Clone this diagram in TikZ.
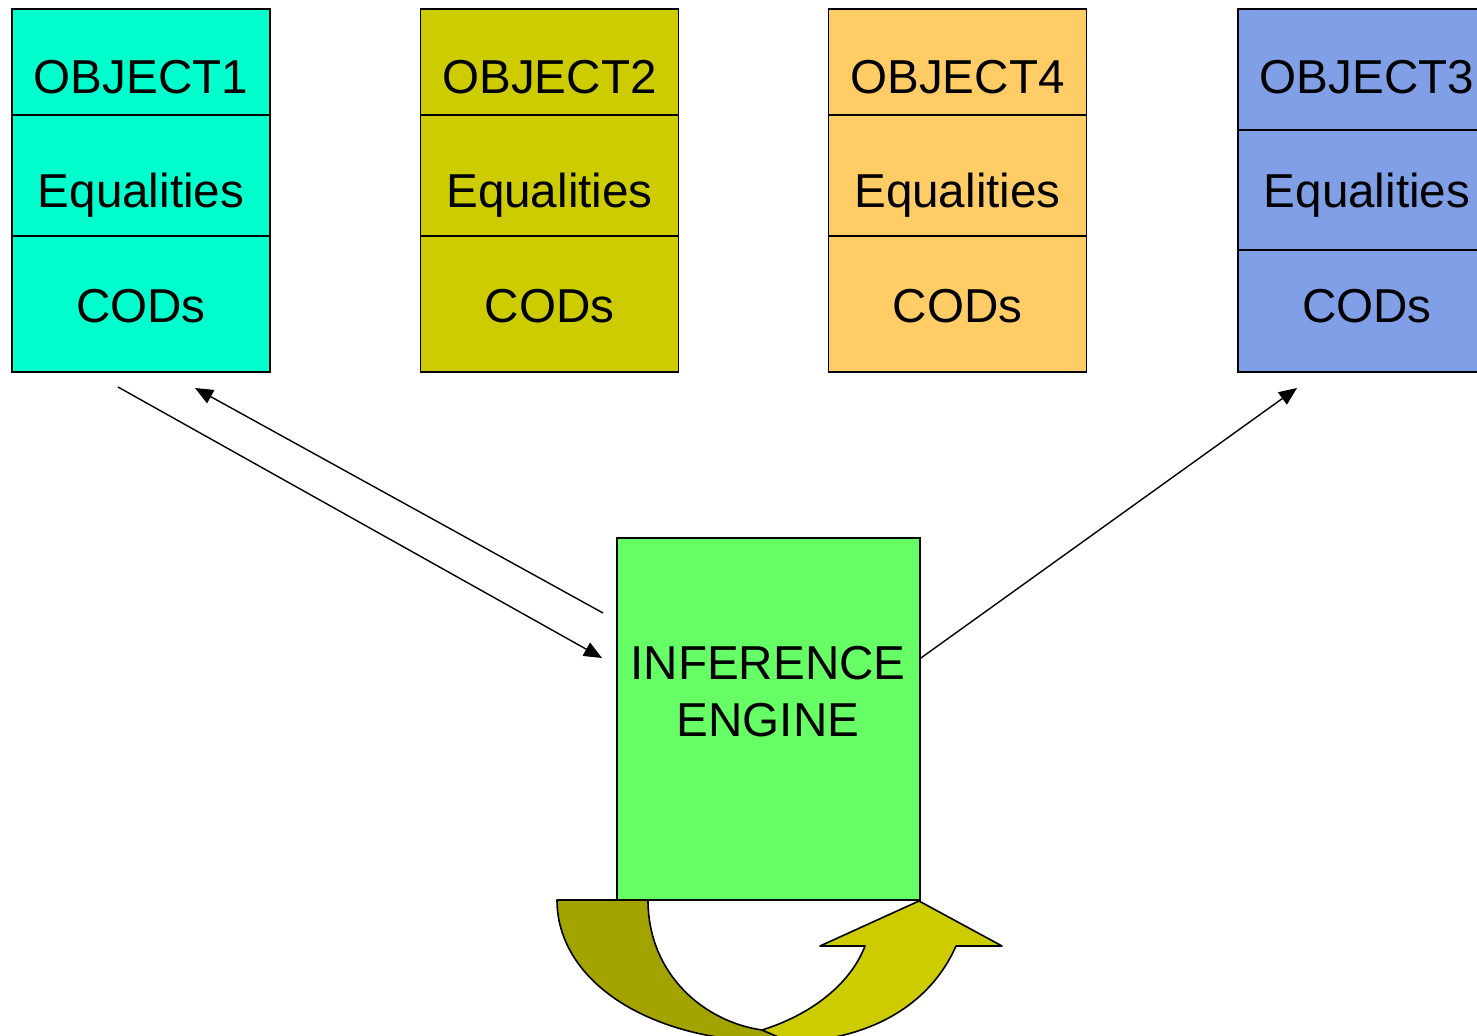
\documentclass[tikz,border=0pt]{standalone}
\usepackage{fontspec}
\setmainfont{Liberation Sans}
\usetikzlibrary{arrows.meta,positioning}
\definecolor{objA}{RGB}{0,255,204}
\definecolor{objB}{RGB}{204,204,0}
\definecolor{objC}{RGB}{255,204,102}
\definecolor{objD}{RGB}{128,159,230}
\definecolor{engfill}{RGB}{102,255,102}
\definecolor{loopdark}{RGB}{163,163,0}
\definecolor{looplight}{RGB}{204,204,0}
\tikzset{
  objbox/.style={draw,line width=0.9pt,inner sep=0pt,minimum width=129pt,minimum height=181.5pt},
  sep/.style={line width=0.6pt},
  lbl/.style={inner sep=0pt,font=\fontsize{23.8}{28.5}\selectfont},
  engbox/.style={draw,line width=0.9pt,fill=engfill,inner sep=0pt,minimum width=151.5pt,minimum height=181pt},
  nyil/.style={line width=0.7pt,-{Triangle[length=9pt,width=7.5pt]}},
  hurok/.style={draw,line width=0.8pt,line join=round},
}
\begin{document}
\begin{tikzpicture}[x=0.5pt,y=-0.5pt]
  \useasboundingbox (0,0) rectangle (1477,1036);
  \clip (0,0) rectangle (1477,1036);
  \foreach \i/\x/\c/\ya/\yb in {1/141/objA/115/236, 2/549.5/objB/115/236,
      4/957.5/objC/115/236, 3/1367/objD/130/250} {
    \node[objbox,fill=\c] (obj\i) at (\x,190.5) {};
    \draw[sep] (\x-129,\ya) -- (\x+129,\ya);
    \draw[sep] (\x-129,\yb) -- (\x+129,\yb);
    \node[lbl,anchor=base] (nev\i) at (\x,94) {OBJECT\i};
    \node[lbl,anchor=base] (eq\i) at (\x,208) {Equalities};
    \node[lbl,anchor=base] (cod\i) at (\x,323) {CODs};
  }
  \node[engbox] (eng) at (768.5,719) {};
  \node[lbl,align=center] (engtxt) at (768,692) {INFERENCE\\ENGINE};
  \coordinate (be) at (118,387);
  \coordinate (beend) at (602,658);
  \coordinate (ki) at (603,613);
  \coordinate (kiend) at (195,388);
  \coordinate (ki3) at (1297,388);
  \draw[nyil] (be) -- (beend);
  \draw[nyil] (ki) -- (kiend);
  \draw[nyil] ([yshift=30.5pt]eng.east) -- (ki3);
  \path[hurok,fill=loopdark] (557,900) -- (648,900)
    .. controls (648,975) and (705,1022) .. (762,1030) -- (790,1042)
    .. controls (648,1045) and (557,980) .. (557,900) -- cycle;
  \path[hurok,fill=looplight] (762,1030)
    .. controls (810,1015) and (850,985) .. (865,946) -- (820,946) -- (919,901)
    -- (1002,946) -- (956,946) .. controls (930,1005) and (870,1040) .. (790,1042) -- cycle;
\end{tikzpicture}
\end{document}
